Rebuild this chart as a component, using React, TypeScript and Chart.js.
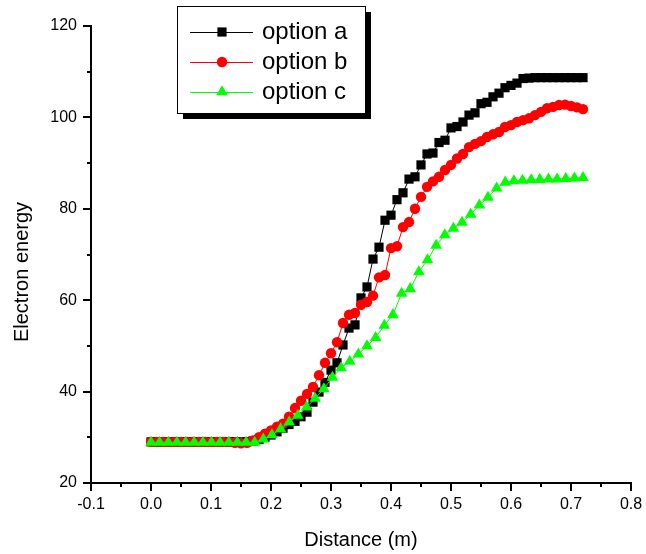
import React, { useEffect, useRef } from "react";
import { Chart, registerables } from "chart.js";

Chart.register(...registerables);

// ---------- data ----------
const distanceAB = [
  0.0, 0.01, 0.02, 0.03, 0.04, 0.05, 0.06, 0.07, 0.08, 0.09,
  0.1, 0.11, 0.12, 0.13, 0.14, 0.15, 0.16, 0.17, 0.18, 0.19,
  0.2, 0.21, 0.22, 0.23, 0.24, 0.25, 0.26, 0.27, 0.28, 0.29,
  0.3, 0.31, 0.32, 0.33, 0.34, 0.35, 0.36, 0.37, 0.38, 0.39,
  0.4, 0.41, 0.42, 0.43, 0.44, 0.45, 0.46, 0.47, 0.48, 0.49,
  0.5, 0.51, 0.52, 0.53, 0.54, 0.55, 0.56, 0.57, 0.58, 0.59,
  0.6, 0.61, 0.62, 0.63, 0.64, 0.65, 0.66, 0.67, 0.68, 0.69,
  0.7, 0.71, 0.72,
];

const optionA = [
  29.0, 29.0, 29.0, 29.0, 29.0, 29.0, 29.0, 29.0, 29.0, 29.0,
  29.0, 29.0, 29.0, 29.0, 29.0, 29.0, 29.0, 29.2, 29.5, 30.0,
  30.5, 31.2, 32.0, 32.8, 33.5, 34.5, 35.5, 37.7, 39.9, 42.0,
  44.7, 46.3, 50.2, 53.9, 54.6, 60.5, 62.9, 69.0, 71.6, 77.5,
  78.6, 82.0, 83.5, 86.5, 87.0, 89.6, 92.0, 92.2, 94.5, 95.0,
  97.7, 98.0, 99.0, 100.5, 101.0, 103.0, 103.3, 104.5, 105.3, 106.5,
  107.0, 107.5, 108.5, 108.6, 108.7, 108.7, 108.7, 108.7, 108.7, 108.7,
  108.7, 108.7, 108.7,
];

const optionB = [
  29.0, 29.0, 29.0, 29.0, 29.0, 29.0, 29.0, 29.0, 29.0, 29.0,
  29.0, 29.0, 29.0, 29.0, 28.8, 28.7, 28.8, 29.3, 30.0, 30.8,
  31.5, 32.3, 33.0, 34.5, 36.4, 38.0, 39.5, 41.0, 43.6, 46.3,
  48.4, 50.8, 55.0, 56.8, 57.2, 59.0, 59.6, 61.0, 65.0, 65.5,
  71.4, 71.8, 76.0, 77.1, 80.0, 82.6, 84.8, 86.0, 87.0, 88.5,
  89.6, 91.0, 92.0, 93.5, 94.2, 94.8, 95.7, 96.3, 96.8, 97.9,
  98.3, 99.0, 99.4, 99.8, 100.5, 101.2, 102.0, 102.3, 102.7, 102.8,
  102.5, 102.2, 101.8,
];

const distanceC = [
  0.0, 0.0144, 0.0288, 0.0432, 0.0576, 0.072, 0.0864, 0.1008, 0.1152, 0.1296,
  0.144, 0.1584, 0.1728, 0.1872, 0.2016, 0.216, 0.2304, 0.2448, 0.2592, 0.2736,
  0.288, 0.3024, 0.3168, 0.3312, 0.3456, 0.36, 0.3744, 0.3888, 0.4032, 0.4176,
  0.432, 0.4464, 0.4608, 0.4752, 0.4896, 0.504, 0.5184, 0.5328, 0.5472, 0.5616,
  0.576, 0.5904, 0.6048, 0.6192, 0.6336, 0.648, 0.6624, 0.6768, 0.6912, 0.7056,
  0.72,
];

const optionC = [
  28.9, 28.9, 28.9, 28.9, 28.9, 28.9, 28.9, 28.9, 28.9, 28.9,
  28.9, 28.9, 28.9, 29.6, 30.5, 31.8, 33.3, 34.8, 36.6, 38.5,
  40.6, 43.1, 45.2, 46.6, 48.2, 50.0, 51.8, 54.5, 56.8, 61.5,
  62.5, 66.2, 68.8, 72.0, 74.3, 75.7, 77.0, 78.8, 80.8, 82.5,
  84.5, 85.8, 86.1, 86.2, 86.3, 86.4, 86.5, 86.5, 86.6, 86.7,
  86.8,
];

const seriesNames = ["option a", "option b", "option c"];
const xTickValues = [-0.1, 0.0, 0.1, 0.2, 0.3, 0.4, 0.5, 0.6, 0.7, 0.8];
const xMinorValues = [-0.05, 0.05, 0.15, 0.25, 0.35, 0.45, 0.55, 0.65, 0.75];
const yTickValues = [20, 40, 60, 80, 100, 120];
const yMinorValues = [30, 50, 70, 90, 110];
const xTitle = "Distance (m)";
const yTitle = "Electron energy";

// ---------- styles ----------
const FONT = "'Liberation Sans', Arial, Helvetica, sans-serif";
const seriesStyles = [
  { color: "#000000", lineColor: "#000000", pointStyle: "rect", radius: 6.5 },
  { color: "#ff0000", lineColor: "#ff0000", pointStyle: "circle", radius: 5.2 },
  { color: "#00ff00", lineColor: "#00ff00", pointStyle: "triangle", radius: 6.7 },
];

function toPoints(xs: number[], ys: number[]) {
  return xs.map((x, i) => ({ x, y: ys[i] }));
}

function drawMarker(ctx: CanvasRenderingContext2D, style: string, r: number, x: number, y: number, color: string) {
  ctx.fillStyle = color;
  ctx.beginPath();
  if (style === "rect") {
    const s = Math.SQRT1_2 * r;
    ctx.rect(x - s, y - s, 2 * s, 2 * s);
  } else if (style === "circle") {
    ctx.arc(x, y, r, 0, Math.PI * 2);
  } else {
    let rad = 0;
    ctx.moveTo(x + Math.sin(rad) * r, y - Math.cos(rad) * r);
    rad += (2 * Math.PI) / 3;
    ctx.lineTo(x + Math.sin(rad) * r, y - Math.cos(rad) * r);
    rad += (2 * Math.PI) / 3;
    ctx.lineTo(x + Math.sin(rad) * r, y - Math.cos(rad) * r);
    ctx.closePath();
  }
  ctx.fill();
}

const decorPlugin = {
  id: "decor",
  afterDraw(chart: any) {
    const ctx: CanvasRenderingContext2D = chart.ctx;
    const xs = chart.scales.x;
    const ys = chart.scales.y;
    const area = chart.chartArea;
    ctx.save();
    ctx.strokeStyle = "#000";
    ctx.lineWidth = 2;
    const drawX = (v: number, len: number) => {
      const px = Math.round(xs.getPixelForValue(v));
      ctx.beginPath();
      ctx.moveTo(px, area.bottom);
      ctx.lineTo(px, area.bottom + len);
      ctx.stroke();
    };
    xTickValues.forEach((v) => drawX(v, 8));
    xMinorValues.forEach((v) => drawX(v, 4));
    const drawY = (v: number, len: number) => {
      const py = Math.round(ys.getPixelForValue(v));
      ctx.beginPath();
      ctx.moveTo(area.left, py);
      ctx.lineTo(area.left - len, py);
      ctx.stroke();
    };
    yTickValues.forEach((v) => drawY(v, 8));
    yMinorValues.forEach((v) => drawY(v, 4));

    // axis titles
    ctx.fillStyle = "#000";
    ctx.font = `20px ${FONT}`;
    ctx.textAlign = "center";
    ctx.textBaseline = "middle";
    ctx.fillText(xTitle, (area.left + area.right) / 2, 540);
    ctx.save();
    ctx.translate(22, 272);
    ctx.rotate(-Math.PI / 2);
    ctx.fillText(yTitle, 0, 0);
    ctx.restore();

    // legend
    const lx = 177, ly = 6, lw = 188, lh = 107;
    ctx.fillStyle = "#000";
    ctx.fillRect(lx + 6, ly + 6, lw, lh);
    ctx.fillStyle = "#fff";
    ctx.fillRect(lx, ly, lw, lh);
    ctx.lineWidth = 1;
    ctx.strokeStyle = "#000";
    ctx.strokeRect(lx + 0.5, ly + 0.5, lw, lh);
    const rows = [32, 62, 92];
    seriesNames.forEach((name, i) => {
      const st = seriesStyles[i];
      const y = rows[i];
      ctx.strokeStyle = st.lineColor;
      ctx.lineWidth = 1;
      ctx.beginPath();
      ctx.moveTo(190, y + 0.5);
      ctx.lineTo(253, y + 0.5);
      ctx.stroke();
      drawMarker(ctx, st.pointStyle, st.radius, 222, y, st.color);
      ctx.fillStyle = "#000";
      ctx.font = `24px ${FONT}`;
      ctx.textAlign = "left";
      ctx.textBaseline = "middle";
      ctx.fillText(name, 262, y);
    });
    ctx.restore();
  },
};

export default function App() {
  const canvasRef = useRef<HTMLCanvasElement | null>(null);

  useEffect(() => {
    const canvas = canvasRef.current;
    if (!canvas) return;
    const seriesData = [
      toPoints(distanceAB, optionA),
      toPoints(distanceAB, optionB),
      toPoints(distanceC, optionC),
    ];
    const chart = new Chart(canvas, {
      type: "scatter",
      data: {
        datasets: seriesNames.map((name, i) => ({
          label: name,
          data: seriesData[i],
          showLine: true,
          borderColor: seriesStyles[i].lineColor,
          borderWidth: 1,
          backgroundColor: seriesStyles[i].color,
          pointStyle: seriesStyles[i].pointStyle as any,
          pointRadius: seriesStyles[i].radius,
          pointBorderWidth: 0,
          pointBackgroundColor: seriesStyles[i].color,
          pointBorderColor: seriesStyles[i].color,
          order: 3 - i,
          tension: 0,
        })),
      },
      options: {
        animation: false,
        responsive: false,
        events: [],
        layout: { padding: { top: 26, right: 15, left: 0, bottom: 0 }, autoPadding: false },
        plugins: { legend: { display: false }, tooltip: { enabled: false }, title: { display: false } },
        scales: {
          x: {
            type: "linear",
            min: -0.1,
            max: 0.8,
            afterBuildTicks: (s: any) => {
              s.ticks = xTickValues.map((v) => ({ value: v }));
            },
            afterFit: (s: any) => {
              s.height = 71;
              s.paddingLeft = 0;
              s.paddingRight = 0;
            },
            grid: { display: false, drawTicks: false },
            border: { display: true, color: "#000", width: 2 },
            ticks: {
              padding: 12,
              color: "#000",
              font: { family: FONT, size: 16 },
              maxRotation: 0,
              autoSkip: false,
              callback: (v: any) => Number(v).toFixed(1),
            },
          },
          y: {
            type: "linear",
            min: 20,
            max: 120,
            afterBuildTicks: (s: any) => {
              s.ticks = yTickValues.map((v) => ({ value: v }));
            },
            afterFit: (s: any) => {
              s.width = 91;
              s.paddingTop = 0;
              s.paddingBottom = 0;
            },
            grid: { display: false, drawTicks: false },
            border: { display: true, color: "#000", width: 2 },
            ticks: {
              padding: 14,
              color: "#000",
              font: { family: FONT, size: 16 },
              autoSkip: false,
              callback: (v: any) => String(v),
            },
          },
        },
      },
      plugins: [decorPlugin],
    });
    return () => chart.destroy();
  }, []);

  return (
    <div style={{ position: "absolute", left: 0, top: 0, width: 646, height: 554, background: "#fff" }}>
      <canvas ref={canvasRef} width={646} height={554} style={{ display: "block" }} />
    </div>
  );
}
